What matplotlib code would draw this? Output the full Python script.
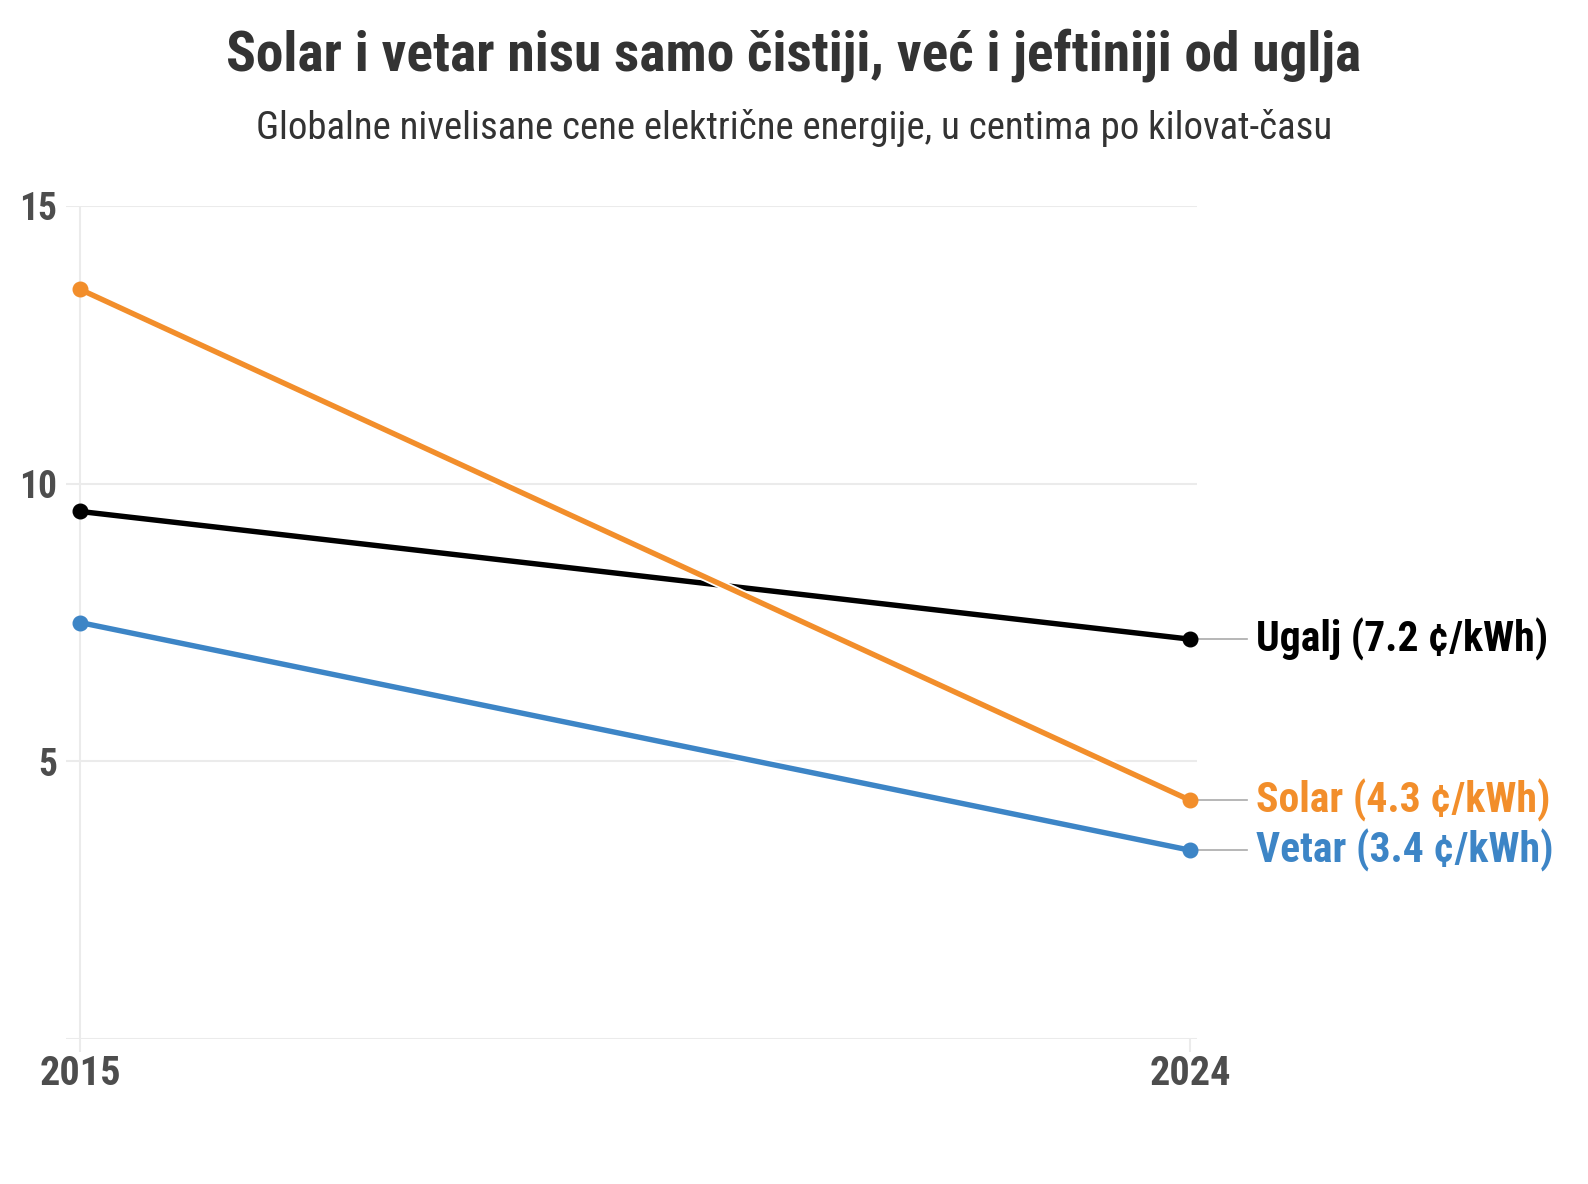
import matplotlib.pyplot as plt
import matplotlib.patheffects as pe

plt.rcParams['font.family'] = ['Roboto Condensed', 'Roboto', 'DejaVu Sans']

# data
years = [2015, 2024]
ugalj = [9.5, 7.2]
solar = [13.5, 4.3]
vetar = [7.5, 3.4]
series_names = ['Ugalj', 'Solar', 'Vetar']
series_colors = ['#000000', '#f28e2b', '#3d85c6']
yticks = [0, 5, 10, 15]
ytick_labels = ['', '5', '10', '15']

W, H = 1588, 1184
fig = plt.figure(figsize=(W / 100, H / 100), dpi=100)
ax = fig.add_axes([66 / W, 1 - 1039 / H, (1197 - 66) / W, (1039 - 206) / H])

px_year = (1190 - 80) / 9
ax.set_xlim(2015 - 14 / px_year, 2024 + 7 / px_year)
ax.set_ylim(0, 15)

for s in ax.spines.values():
    s.set_visible(False)

ax.set_yticks(yticks)
ax.set_yticklabels(ytick_labels)
ax.yaxis.grid(True, color='#ebebeb', lw=1.5)
ax.axvline(2015, color='#ebebeb', lw=1.5, zorder=0)
ax.tick_params(axis='y', length=0, pad=6.5, labelsize=27, labelcolor='#4d4d4d')
ax.set_xticks(years)
ax.set_xticklabels([str(y) for y in years])
ax.tick_params(axis='x', length=9.4, width=1.5, color='#ebebeb', pad=2,
               labelsize=29, labelcolor='#4d4d4d')
for lab in ax.get_xticklabels() + ax.get_yticklabels():
    lab.set_fontweight('bold')

for i, (name, vals, col) in enumerate(zip(series_names, [ugalj, solar, vetar], series_colors)):
    # line with a thin white halo, markers drawn plain on top
    ax.plot(years, vals, color=col, lw=3.9, solid_capstyle='butt',
            clip_on=False, zorder=3 + i,
            path_effects=[pe.Stroke(linewidth=6.5, foreground='white'), pe.Normal()])
    ax.plot(years, vals, 'o', color=col, markersize=10.5, clip_on=False, zorder=6)
    end = vals[-1]
    ax.plot([years[-1], years[-1] + 57 / px_year], [end, end], color='#aaaaaa',
            lw=1.2, clip_on=False, zorder=2)
    ax.text(years[-1] + 66 / px_year, end, f'{name} ({end} ¢/kWh)', color=col,
            fontsize=30, fontweight='bold', va='center', ha='left', clip_on=False)

fig.text(0.5, 1 - 70 / H, 'Solar i vetar nisu samo čistiji, već i jeftiniji od uglja',
         ha='center', va='baseline', fontsize=40, fontweight='bold', color='#333333')
fig.text(0.5, 1 - 139 / H,
         'Globalne nivelisane cene električne energije, u centima po kilovat-času',
         ha='center', va='baseline', fontsize=28, color='#333333')

fig.savefig('out.png', dpi=100)
